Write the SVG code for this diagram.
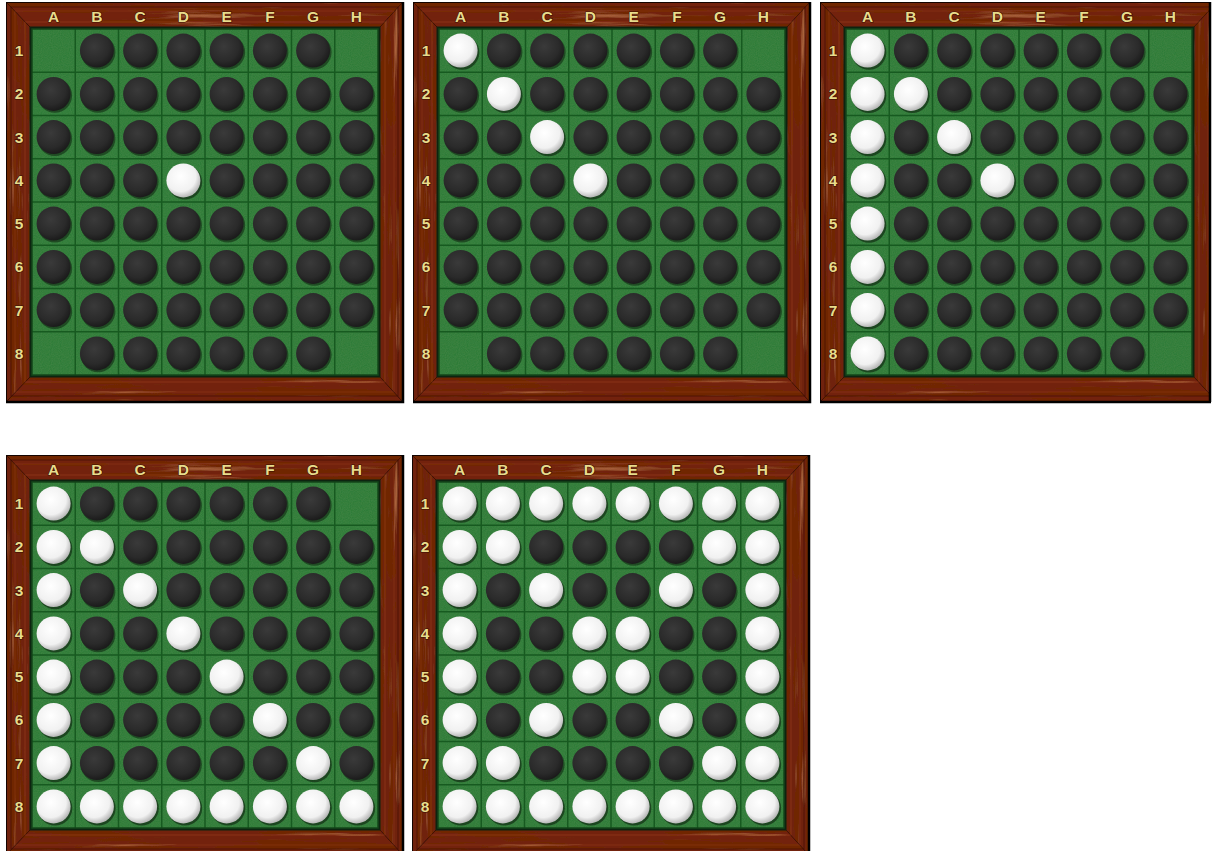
<svg xmlns="http://www.w3.org/2000/svg" xmlns:xlink="http://www.w3.org/1999/xlink" width="1213" height="851" viewBox="0 0 1213 851">
<style>
.lbl{font-family:"Liberation Sans",Arial,sans-serif;font-weight:bold;font-size:15.5px;fill:#e8dc8c;stroke:#3a0e02;stroke-width:1.2px;paint-order:stroke;text-anchor:middle}
.grid{stroke:#175a20;stroke-width:1.5;fill:none}
</style>
<defs>
<filter id="gh" x="0" y="0" width="100%" height="100%">
<feTurbulence type="fractalNoise" baseFrequency="0.008 0.18" numOctaves="4" seed="4" result="n"/>
<feColorMatrix in="n" type="matrix" values="0 0 0 0 0.16  0 0 0 0 0.02  0 0 0 0 0.0  3.6 0 0 0 -1.4" result="d"/>
<feColorMatrix in="n" type="matrix" values="0 0 0 0 0.62  0 0 0 0 0.22  0 0 0 0 0.08  0 -2.6 0 0 1.0" result="l"/>
<feMerge result="m"><feMergeNode in="SourceGraphic"/><feMergeNode in="l"/><feMergeNode in="d"/></feMerge>
<feComposite in="m" in2="SourceAlpha" operator="in"/>
</filter>
<filter id="gv" x="0" y="0" width="100%" height="100%">
<feTurbulence type="fractalNoise" baseFrequency="0.18 0.008" numOctaves="4" seed="9" result="n"/>
<feColorMatrix in="n" type="matrix" values="0 0 0 0 0.16  0 0 0 0 0.02  0 0 0 0 0.0  3.6 0 0 0 -1.4" result="d"/>
<feColorMatrix in="n" type="matrix" values="0 0 0 0 0.62  0 0 0 0 0.22  0 0 0 0 0.08  0 -2.6 0 0 1.0" result="l"/>
<feMerge result="m"><feMergeNode in="SourceGraphic"/><feMergeNode in="l"/><feMergeNode in="d"/></feMerge>
<feComposite in="m" in2="SourceAlpha" operator="in"/>
</filter>
<filter id="gn" x="0" y="0" width="100%" height="100%">
<feTurbulence type="fractalNoise" baseFrequency="0.9" numOctaves="1" seed="2" result="n"/>
<feColorMatrix in="n" type="matrix" values="0 0 0 0 0.1  0 0 0 0 0.3  0 0 0 0 0.1  0.5 0 0 0 -0.15" result="d"/>
<feComposite in="d" in2="SourceGraphic" operator="atop"/>
</filter>
<radialGradient id="gb" cx="0.42" cy="0.38" r="0.62">
<stop offset="0" stop-color="#3a3a3a"/><stop offset="0.7" stop-color="#2a2a2a"/><stop offset="1" stop-color="#1b1b1b"/>
</radialGradient>
<radialGradient id="gw" cx="0.42" cy="0.38" r="0.62">
<stop offset="0" stop-color="#ffffff"/><stop offset="0.72" stop-color="#f1f1f1"/><stop offset="1" stop-color="#b9b9b9"/>
</radialGradient>
<g id="k"><circle cx="1.2" cy="1.6" r="17.3" fill="#0c200e" opacity="0.55"/><circle r="17" fill="url(#gb)"/></g>
<g id="w"><circle cx="1.4" cy="1.8" r="17.3" fill="#0c200e" opacity="0.6"/><circle r="17" fill="url(#gw)"/></g>
<g id="r8k"><use href="#k" x="47.6"/><use href="#k" x="90.9"/><use href="#k" x="134.1"/><use href="#k" x="177.4"/><use href="#k" x="220.6"/><use href="#k" x="263.9"/><use href="#k" x="307.1"/><use href="#k" x="350.4"/></g>
<g id="r7k"><use href="#k" x="90.9"/><use href="#k" x="134.1"/><use href="#k" x="177.4"/><use href="#k" x="220.6"/><use href="#k" x="263.9"/><use href="#k" x="307.1"/><use href="#k" x="350.4"/></g>
<g id="r6k"><use href="#k" x="90.9"/><use href="#k" x="134.1"/><use href="#k" x="177.4"/><use href="#k" x="220.6"/><use href="#k" x="263.9"/><use href="#k" x="307.1"/></g>
<g id="r8w"><use href="#w" x="47.6"/><use href="#w" x="90.9"/><use href="#w" x="134.1"/><use href="#w" x="177.4"/><use href="#w" x="220.6"/><use href="#w" x="263.9"/><use href="#w" x="307.1"/><use href="#w" x="350.4"/></g>
<g id="frm">
<rect x="0" y="0" width="398" height="400" fill="#140400"/>
<polygon points="1,1 396,1 374,25 24,25" fill="#73240b" filter="url(#gh)"/>
<polygon points="1,399 396,399 374,375 24,375" fill="#73240b" filter="url(#gh)"/>
<polygon points="1,1 24,25 24,375 1,399" fill="#70230b" filter="url(#gv)"/>
<polygon points="396,1 374,25 374,375 396,399" fill="#70230b" filter="url(#gv)"/>
<rect x="5" y="5" width="387" height="389" fill="none" stroke="#3a0c02" stroke-width="1" opacity="0.6"/>
<rect x="9" y="9" width="379" height="381" fill="none" stroke="#b5532a" stroke-width="0.8" opacity="0.3"/>
<rect x="19" y="20" width="360" height="360" fill="none" stroke="#c0602e" stroke-width="1" opacity="0.3"/>
<path d="M1,1 L24,25 M396,1 L374,25 M1,399 L24,375 M396,399 L374,375" stroke="#3a0c02" stroke-width="0.8" opacity="0.5"/>
<path d="M397,0 V400 H0" fill="none" stroke="#000" stroke-width="2.5"/>
<rect x="23.5" y="24.5" width="351" height="351" fill="#0d2410"/>
<rect x="26" y="27" width="346" height="346" fill="#2f7c38" filter="url(#gn)"/>
<path class="grid" d="M69.25,27V373M112.5,27V373M155.75,27V373M199,27V373M242.25,27V373M285.5,27V373M328.75,27V373M26,70.25H372M26,113.5H372M26,156.75H372M26,200H372M26,243.25H372M26,286.5H372M26,329.75H372"/>
<rect x="26" y="27" width="346" height="346" fill="none" stroke="#13461a" stroke-width="1.5"/>
</g>
<clipPath id="c3"><rect x="0" y="0" width="391" height="402"/></clipPath>
</defs>

<g id="board1" transform="translate(6,2)">
<use href="#frm"/>
<text class="lbl" x="47.6 90.9 134.1 177.4 220.6 263.9 307.1 350.4" y="20">ABCDEFGH</text>
<text class="lbl" x="13 13 13 13 13 13 13 13" y="54.1 97.4 140.6 183.9 227.1 270.4 313.6 356.9">12345678</text>
<use href="#r6k" y="48.6"/>
<use href="#r8k" y="91.9"/>
<use href="#r8k" y="135.1"/>
<use href="#k" x="47.6" y="178.4"/><use href="#k" x="90.9" y="178.4"/><use href="#k" x="134.1" y="178.4"/><use href="#w" x="177.4" y="178.4"/><use href="#k" x="220.6" y="178.4"/><use href="#k" x="263.9" y="178.4"/><use href="#k" x="307.1" y="178.4"/><use href="#k" x="350.4" y="178.4"/>
<use href="#r8k" y="221.6"/>
<use href="#r8k" y="264.9"/>
<use href="#r8k" y="308.1"/>
<use href="#r6k" y="351.4"/>
</g>

<g id="board2" transform="translate(413,2)">
<use href="#frm"/>
<text class="lbl" x="47.6 90.9 134.1 177.4 220.6 263.9 307.1 350.4" y="20">ABCDEFGH</text>
<text class="lbl" x="13 13 13 13 13 13 13 13" y="54.1 97.4 140.6 183.9 227.1 270.4 313.6 356.9">12345678</text>
<use href="#w" x="47.6" y="48.6"/><use href="#r6k" y="48.6"/>
<use href="#k" x="47.6" y="91.9"/><use href="#w" x="90.9" y="91.9"/><use href="#k" x="134.1" y="91.9"/><use href="#k" x="177.4" y="91.9"/><use href="#k" x="220.6" y="91.9"/><use href="#k" x="263.9" y="91.9"/><use href="#k" x="307.1" y="91.9"/><use href="#k" x="350.4" y="91.9"/>
<use href="#k" x="47.6" y="135.1"/><use href="#k" x="90.9" y="135.1"/><use href="#w" x="134.1" y="135.1"/><use href="#k" x="177.4" y="135.1"/><use href="#k" x="220.6" y="135.1"/><use href="#k" x="263.9" y="135.1"/><use href="#k" x="307.1" y="135.1"/><use href="#k" x="350.4" y="135.1"/>
<use href="#k" x="47.6" y="178.4"/><use href="#k" x="90.9" y="178.4"/><use href="#k" x="134.1" y="178.4"/><use href="#w" x="177.4" y="178.4"/><use href="#k" x="220.6" y="178.4"/><use href="#k" x="263.9" y="178.4"/><use href="#k" x="307.1" y="178.4"/><use href="#k" x="350.4" y="178.4"/>
<use href="#r8k" y="221.6"/>
<use href="#r8k" y="264.9"/>
<use href="#r8k" y="308.1"/>
<use href="#r6k" y="351.4"/>
</g>

<g id="board3" transform="translate(820,2)">
<g clip-path="url(#c3)"><use href="#frm"/></g>
<path d="M390,0 V400" stroke="#000" stroke-width="2.5"/>
<text class="lbl" x="47.6 90.9 134.1 177.4 220.6 263.9 307.1 350.4" y="20">ABCDEFGH</text>
<text class="lbl" x="13 13 13 13 13 13 13 13" y="54.1 97.4 140.6 183.9 227.1 270.4 313.6 356.9">12345678</text>
<use href="#w" x="47.6" y="48.6"/><use href="#r6k" y="48.6"/>
<use href="#w" x="47.6" y="91.9"/><use href="#w" x="90.9" y="91.9"/><use href="#k" x="134.1" y="91.9"/><use href="#k" x="177.4" y="91.9"/><use href="#k" x="220.6" y="91.9"/><use href="#k" x="263.9" y="91.9"/><use href="#k" x="307.1" y="91.9"/><use href="#k" x="350.4" y="91.9"/>
<use href="#w" x="47.6" y="135.1"/><use href="#k" x="90.9" y="135.1"/><use href="#w" x="134.1" y="135.1"/><use href="#k" x="177.4" y="135.1"/><use href="#k" x="220.6" y="135.1"/><use href="#k" x="263.9" y="135.1"/><use href="#k" x="307.1" y="135.1"/><use href="#k" x="350.4" y="135.1"/>
<use href="#w" x="47.6" y="178.4"/><use href="#k" x="90.9" y="178.4"/><use href="#k" x="134.1" y="178.4"/><use href="#w" x="177.4" y="178.4"/><use href="#k" x="220.6" y="178.4"/><use href="#k" x="263.9" y="178.4"/><use href="#k" x="307.1" y="178.4"/><use href="#k" x="350.4" y="178.4"/>
<use href="#w" x="47.6" y="221.6"/><use href="#r7k" y="221.6"/>
<use href="#w" x="47.6" y="264.9"/><use href="#r7k" y="264.9"/>
<use href="#w" x="47.6" y="308.1"/><use href="#r7k" y="308.1"/>
<use href="#w" x="47.6" y="351.4"/><use href="#r6k" y="351.4"/>
</g>

<g id="board4" transform="translate(6,455)">
<use href="#frm"/>
<text class="lbl" x="47.6 90.9 134.1 177.4 220.6 263.9 307.1 350.4" y="20">ABCDEFGH</text>
<text class="lbl" x="13 13 13 13 13 13 13 13" y="54.1 97.4 140.6 183.9 227.1 270.4 313.6 356.9">12345678</text>
<use href="#w" x="47.6" y="48.6"/><use href="#r6k" y="48.6"/>
<use href="#w" x="47.6" y="91.9"/><use href="#w" x="90.9" y="91.9"/><use href="#k" x="134.1" y="91.9"/><use href="#k" x="177.4" y="91.9"/><use href="#k" x="220.6" y="91.9"/><use href="#k" x="263.9" y="91.9"/><use href="#k" x="307.1" y="91.9"/><use href="#k" x="350.4" y="91.9"/>
<use href="#w" x="47.6" y="135.1"/><use href="#k" x="90.9" y="135.1"/><use href="#w" x="134.1" y="135.1"/><use href="#k" x="177.4" y="135.1"/><use href="#k" x="220.6" y="135.1"/><use href="#k" x="263.9" y="135.1"/><use href="#k" x="307.1" y="135.1"/><use href="#k" x="350.4" y="135.1"/>
<use href="#w" x="47.6" y="178.4"/><use href="#k" x="90.9" y="178.4"/><use href="#k" x="134.1" y="178.4"/><use href="#w" x="177.4" y="178.4"/><use href="#k" x="220.6" y="178.4"/><use href="#k" x="263.9" y="178.4"/><use href="#k" x="307.1" y="178.4"/><use href="#k" x="350.4" y="178.4"/>
<use href="#w" x="47.6" y="221.6"/><use href="#k" x="90.9" y="221.6"/><use href="#k" x="134.1" y="221.6"/><use href="#k" x="177.4" y="221.6"/><use href="#w" x="220.6" y="221.6"/><use href="#k" x="263.9" y="221.6"/><use href="#k" x="307.1" y="221.6"/><use href="#k" x="350.4" y="221.6"/>
<use href="#w" x="47.6" y="264.9"/><use href="#k" x="90.9" y="264.9"/><use href="#k" x="134.1" y="264.9"/><use href="#k" x="177.4" y="264.9"/><use href="#k" x="220.6" y="264.9"/><use href="#w" x="263.9" y="264.9"/><use href="#k" x="307.1" y="264.9"/><use href="#k" x="350.4" y="264.9"/>
<use href="#w" x="47.6" y="308.1"/><use href="#k" x="90.9" y="308.1"/><use href="#k" x="134.1" y="308.1"/><use href="#k" x="177.4" y="308.1"/><use href="#k" x="220.6" y="308.1"/><use href="#k" x="263.9" y="308.1"/><use href="#w" x="307.1" y="308.1"/><use href="#k" x="350.4" y="308.1"/>
<use href="#r8w" y="351.4"/>
</g>

<g id="board5" transform="translate(412,455)">
<use href="#frm"/>
<text class="lbl" x="47.6 90.9 134.1 177.4 220.6 263.9 307.1 350.4" y="20">ABCDEFGH</text>
<text class="lbl" x="13 13 13 13 13 13 13 13" y="54.1 97.4 140.6 183.9 227.1 270.4 313.6 356.9">12345678</text>
<use href="#r8w" y="48.6"/>
<use href="#w" x="47.6" y="91.9"/><use href="#w" x="90.9" y="91.9"/><use href="#k" x="134.1" y="91.9"/><use href="#k" x="177.4" y="91.9"/><use href="#k" x="220.6" y="91.9"/><use href="#k" x="263.9" y="91.9"/><use href="#w" x="307.1" y="91.9"/><use href="#w" x="350.4" y="91.9"/>
<use href="#w" x="47.6" y="135.1"/><use href="#k" x="90.9" y="135.1"/><use href="#w" x="134.1" y="135.1"/><use href="#k" x="177.4" y="135.1"/><use href="#k" x="220.6" y="135.1"/><use href="#w" x="263.9" y="135.1"/><use href="#k" x="307.1" y="135.1"/><use href="#w" x="350.4" y="135.1"/>
<use href="#w" x="47.6" y="178.4"/><use href="#k" x="90.9" y="178.4"/><use href="#k" x="134.1" y="178.4"/><use href="#w" x="177.4" y="178.4"/><use href="#w" x="220.6" y="178.4"/><use href="#k" x="263.9" y="178.4"/><use href="#k" x="307.1" y="178.4"/><use href="#w" x="350.4" y="178.4"/>
<use href="#w" x="47.6" y="221.6"/><use href="#k" x="90.9" y="221.6"/><use href="#k" x="134.1" y="221.6"/><use href="#w" x="177.4" y="221.6"/><use href="#w" x="220.6" y="221.6"/><use href="#k" x="263.9" y="221.6"/><use href="#k" x="307.1" y="221.6"/><use href="#w" x="350.4" y="221.6"/>
<use href="#w" x="47.6" y="264.9"/><use href="#k" x="90.9" y="264.9"/><use href="#w" x="134.1" y="264.9"/><use href="#k" x="177.4" y="264.9"/><use href="#k" x="220.6" y="264.9"/><use href="#w" x="263.9" y="264.9"/><use href="#k" x="307.1" y="264.9"/><use href="#w" x="350.4" y="264.9"/>
<use href="#w" x="47.6" y="308.1"/><use href="#w" x="90.9" y="308.1"/><use href="#k" x="134.1" y="308.1"/><use href="#k" x="177.4" y="308.1"/><use href="#k" x="220.6" y="308.1"/><use href="#k" x="263.9" y="308.1"/><use href="#w" x="307.1" y="308.1"/><use href="#w" x="350.4" y="308.1"/>
<use href="#r8w" y="351.4"/>
</g>

<g id="connectors"/>
</svg>
